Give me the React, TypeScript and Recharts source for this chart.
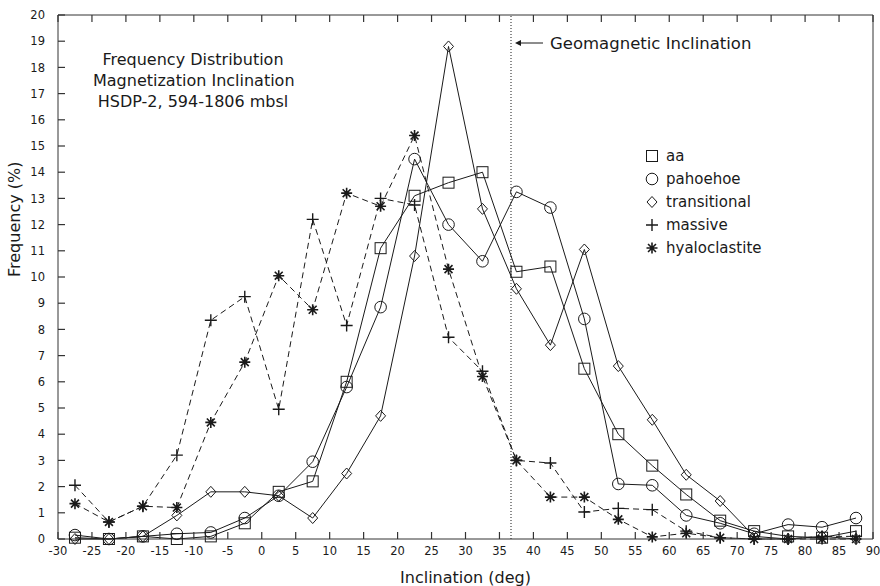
import { LineChart, Line, XAxis, YAxis, ReferenceLine } from 'recharts';

const inclination = [
  -27.5, -22.5, -17.5, -12.5, -7.5, -2.5, 2.5, 7.5, 12.5, 17.5, 22.5, 27.5,
  32.5, 37.5, 42.5, 47.5, 52.5, 57.5, 62.5, 67.5, 72.5, 77.5, 82.5, 87.5,
];

const aa = [0.05, 0, 0.1, 0, 0.1, 0.6, 1.8, 2.2, 6.0, 11.1, 13.1, 13.6, 14.0, 10.2, 10.4, 6.5, 4.0, 2.8, 1.7, 0.7, 0.3, 0.1, 0.05, 0.3];
const pahoehoe = [0.15, 0, 0.1, 0.2, 0.25, 0.8, 1.65, 2.95, 5.8, 8.85, 14.5, 12.0, 10.6, 13.25, 12.65, 8.4, 2.1, 2.05, 0.9, 0.6, 0.2, 0.55, 0.45, 0.8];
const transitional = [0, 0, 0.1, 0.9, 1.8, 1.8, 1.65, 0.8, 2.5, 4.7, 10.8, 18.8, 12.6, 9.55, 7.4, 11.05, 6.6, 4.55, 2.45, 1.45, 0.1, 0, 0.1, 0];
const massive = [2.05, 0.65, 1.25, 3.2, 8.35, 9.25, 4.95, 12.2, 8.15, 13.0, 12.75, 7.7, 6.4, 3.0, 2.9, 1.03, 1.17, 1.12, 0.3, 0.05, 0, 0, 0.1, 0.1];
const hyaloclastite = [1.35, 0.65, 1.25, 1.2, 4.45, 6.75, 10.05, 8.75, 13.2, 12.7, 15.4, 10.3, 6.2, 3.0, 1.6, 1.6, 0.75, 0.08, 0.22, 0.05, 0, 0, 0, 0];

const geomagnetic = 36.7;
const xTicks = [-30, -25, -20, -15, -10, -5, 0, 5, 10, 15, 20, 25, 30, 35, 40, 45, 50, 55, 60, 65, 70, 75, 80, 85, 90];
const yTicks = [0, 1, 2, 3, 4, 5, 6, 7, 8, 9, 10, 11, 12, 13, 14, 15, 16, 17, 18, 19, 20];

const titleLines = ['Frequency Distribution', 'Magnetization Inclination', 'HSDP-2, 594-1806 mbsl'];

const rows = inclination.map((x, i) => ({
  x,
  aa: aa[i],
  pahoehoe: pahoehoe[i],
  transitional: transitional[i],
  massive: massive[i],
  hyaloclastite: hyaloclastite[i],
}));

const INK = '#1a1a1a';
const AXIS = '#333';
const FONT = '"DejaVu Sans", sans-serif';
const TICK = 6;

type Shape = 'square' | 'circle' | 'diamond' | 'plus' | 'star';

function Marker({ shape, cx, cy }: { shape: Shape; cx: number; cy: number }) {
  const p = { stroke: INK, strokeWidth: 1, fill: 'none' };
  if (shape === 'square') return <rect x={cx - 5.5} y={cy - 5.5} width={11} height={11} {...p} />;
  if (shape === 'circle') return <circle cx={cx} cy={cy} r={5.8} {...p} />;
  if (shape === 'diamond')
    return <path d={`M${cx},${cy - 5.5}L${cx + 5},${cy}L${cx},${cy + 5.5}L${cx - 5},${cy}Z`} {...p} />;
  if (shape === 'plus')
    return <path d={`M${cx - 6},${cy}H${cx + 6}M${cx},${cy - 6}V${cy + 6}`} {...p} strokeWidth={1.4} />;
  const r = 5.5;
  const d = r * 0.72;
  return (
    <path
      d={`M${cx - r},${cy}H${cx + r}M${cx},${cy - r}V${cy + r}M${cx - d},${cy - d}L${cx + d},${cy + d}M${cx - d},${cy + d}L${cx + d},${cy - d}`}
      {...p}
      strokeWidth={1.6}
    />
  );
}

const dotFor = (shape: Shape) => (props: any) => {
  const { cx, cy, index } = props;
  if (cx == null || cy == null) return <g key={index} />;
  return (
    <g key={`${shape}-${index}`}>
      <Marker shape={shape} cx={cx} cy={cy} />
    </g>
  );
};

const series: { key: string; shape: Shape; dashed: boolean }[] = [
  { key: 'aa', shape: 'square', dashed: false },
  { key: 'pahoehoe', shape: 'circle', dashed: false },
  { key: 'transitional', shape: 'diamond', dashed: false },
  { key: 'massive', shape: 'plus', dashed: true },
  { key: 'hyaloclastite', shape: 'star', dashed: true },
];

function GeoLabel(props: any) {
  const { viewBox } = props;
  const x = viewBox.x;
  const y = viewBox.y + 28;
  return (
    <g>
      <path d={`M${x + 6},${y}H${x + 32}`} stroke={INK} strokeWidth={1} />
      <path d={`M${x + 4},${y}L${x + 10},${y - 3}L${x + 10},${y + 3}Z`} fill={INK} />
      <text x={x + 39} y={y + 6} fontSize={16.5} fontFamily={FONT} fill={INK}>
        Geomagnetic Inclination
      </text>
    </g>
  );
}

// inward tick marks drawn as paths; label position from recharts sits TICK px off the axis
const tickStroke = { stroke: AXIS, strokeWidth: 1.2, fill: 'none' };

const BottomTick = (props: any) => {
  const { x, y, payload } = props;
  const axisY = y - TICK;
  return (
    <g>
      <path d={`M${x},${axisY}V${axisY - 7}`} {...tickStroke} />
      <text x={x} y={y} dy="0.9em" textAnchor="middle" fontSize={11.5} fontFamily={FONT} fill={INK}>
        {payload.value}
      </text>
    </g>
  );
};

const LeftTick = (props: any) => {
  const { x, y, payload } = props;
  const axisX = x + TICK;
  return (
    <g>
      <path d={`M${axisX},${y}H${axisX + 7}`} {...tickStroke} />
      <text x={x - 7} y={y} dy="0.36em" textAnchor="end" fontSize={11.5} fontFamily={FONT} fill={INK}>
        {payload.value}
      </text>
    </g>
  );
};

const TopTick = (props: any) => {
  const { x, y } = props;
  const axisY = y + TICK;
  return <path d={`M${x},${axisY}V${axisY + 7}`} {...tickStroke} />;
};

const RightTick = (props: any) => {
  const { x, y } = props;
  const axisX = x - TICK;
  return <path d={`M${axisX},${y}H${axisX - 7}`} {...tickStroke} />;
};

export default function App() {
  return (
    <div style={{ position: 'absolute', left: 0, top: 0, width: 880, height: 586, background: '#fff' }}>
      <LineChart width={880} height={586} data={rows} margin={{ top: 14, right: 6, bottom: 0, left: 0 }}>
        <XAxis
          dataKey="x"
          type="number"
          domain={[-30, 90]}
          ticks={xTicks}
          interval={0}
          height={47}
          tickLine={false}
          tickSize={TICK}
          tickMargin={0}
          stroke={AXIS}
          tick={BottomTick}
          label={{ value: 'Inclination (deg)', position: 'insideBottom', offset: 3, fontSize: 16, fontFamily: FONT, fill: INK }}
        />
        <XAxis
          xAxisId="t"
          orientation="top"
          dataKey="x"
          type="number"
          domain={[-30, 90]}
          ticks={xTicks}
          interval={0}
          height={1}
          tickLine={false}
          tickSize={TICK}
          tickMargin={0}
          stroke={AXIS}
          tick={TopTick}
        />
        <YAxis
          type="number"
          domain={[0, 20]}
          ticks={yTicks}
          interval={0}
          width={58}
          tickLine={false}
          tickSize={TICK}
          tickMargin={0}
          stroke={AXIS}
          tick={LeftTick}
          label={{ value: 'Frequency (%)', angle: -90, position: 'insideLeft', offset: 14, fontSize: 16, fontFamily: FONT, fill: INK }}
        />
        <YAxis
          yAxisId="r"
          orientation="right"
          type="number"
          domain={[0, 20]}
          ticks={yTicks}
          interval={0}
          width={1}
          tickLine={false}
          tickSize={TICK}
          tickMargin={0}
          stroke={AXIS}
          tick={RightTick}
        />
        <ReferenceLine x={geomagnetic} stroke={INK} strokeDasharray="1 2" label={<GeoLabel />} />
        {series.map((s) => (
          <Line
            key={s.key}
            dataKey={s.key}
            type="linear"
            stroke={INK}
            strokeWidth={1}
            strokeDasharray={s.dashed ? '6 4' : undefined}
            dot={dotFor(s.shape)}
            activeDot={false}
            isAnimationActive={false}
          />
        ))}
      </LineChart>
      <div
        style={{
          position: 'absolute',
          left: 93,
          top: 49,
          width: 200,
          textAlign: 'center',
          fontFamily: FONT,
          fontSize: 16,
          lineHeight: '21px',
          color: INK,
        }}
      >
        {titleLines.map((t) => (
          <div key={t} style={{ whiteSpace: 'nowrap' }}>{t}</div>
        ))}
      </div>
      <div style={{ position: 'absolute', left: 644, top: 144, fontFamily: FONT, fontSize: 15, color: INK }}>
        {series.map((s) => (
          <div key={s.key} style={{ display: 'flex', alignItems: 'center', height: 23 }}>
            <svg width={16} height={16} style={{ marginRight: 6 }}>
              <Marker shape={s.shape} cx={8} cy={8} />
            </svg>
            <span>{s.key}</span>
          </div>
        ))}
      </div>
    </div>
  );
}
